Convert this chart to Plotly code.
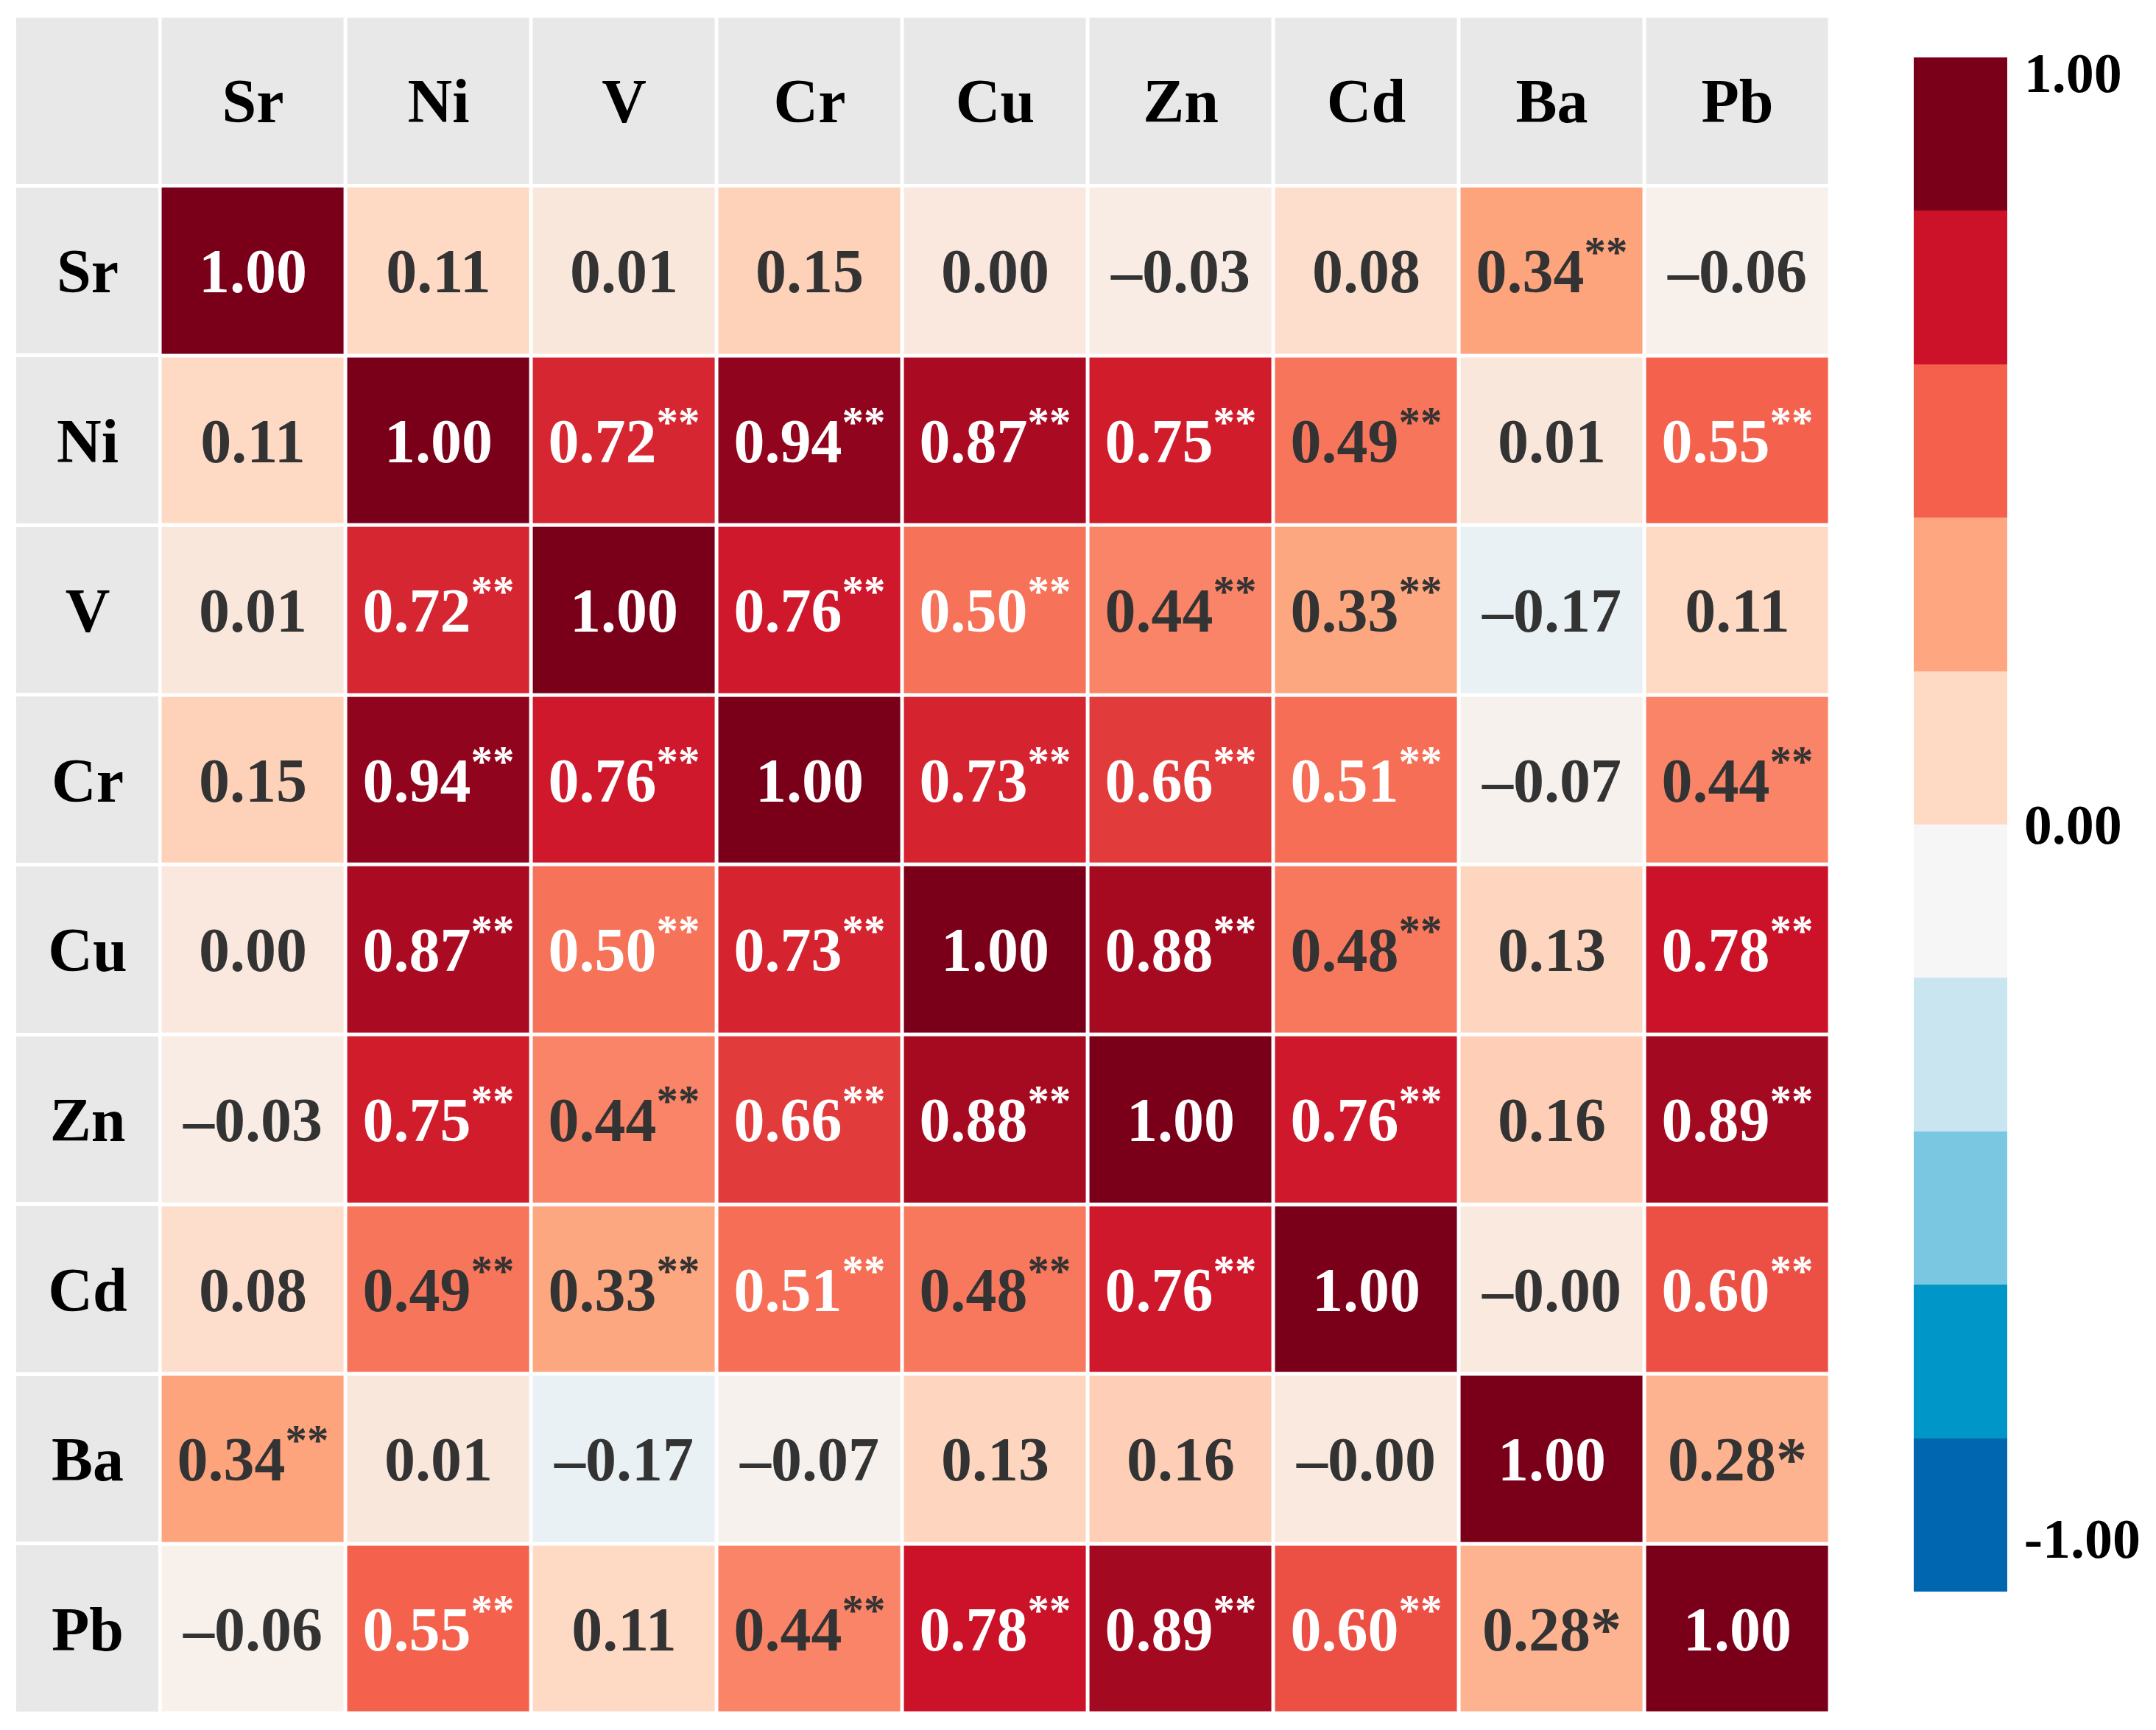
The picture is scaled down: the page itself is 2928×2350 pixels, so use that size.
import plotly.graph_objects as go

# ── 1. Data ───────────────────────────────────────
elements = ['Sr', 'Ni', 'V', 'Cr', 'Cu', 'Zn', 'Cd', 'Ba', 'Pb']

corr = [
    [1.00, 0.11, 0.01, 0.15, 0.00, -0.03, 0.08, 0.34, -0.06],
    [0.11, 1.00, 0.72, 0.94, 0.87, 0.75, 0.49, 0.01, 0.55],
    [0.01, 0.72, 1.00, 0.76, 0.50, 0.44, 0.33, -0.17, 0.11],
    [0.15, 0.94, 0.76, 1.00, 0.73, 0.66, 0.51, -0.07, 0.44],
    [0.00, 0.87, 0.50, 0.73, 1.00, 0.88, 0.48, 0.13, 0.78],
    [-0.03, 0.75, 0.44, 0.66, 0.88, 1.00, 0.76, 0.16, 0.89],
    [0.08, 0.49, 0.33, 0.51, 0.48, 0.76, 1.00, -0.004, 0.60],
    [0.34, 0.01, -0.17, -0.07, 0.13, 0.16, -0.004, 1.00, 0.28],
    [-0.06, 0.55, 0.11, 0.44, 0.78, 0.89, 0.60, 0.28, 1.00],
]

stars = [
    ['', '', '', '', '', '', '', '**', ''],
    ['', '', '**', '**', '**', '**', '**', '', '**'],
    ['', '**', '', '**', '**', '**', '**', '', ''],
    ['', '**', '**', '', '**', '**', '**', '', '**'],
    ['', '**', '**', '**', '', '**', '**', '', '**'],
    ['', '**', '**', '**', '**', '', '**', '', '**'],
    ['', '**', '**', '**', '**', '**', '', '', '**'],
    ['**', '', '', '', '', '', '', '', '*'],
    ['', '**', '', '**', '**', '**', '**', '*', ''],
]

cbar_ticks = [0.98, 0.0, -0.93]
cbar_text = ['1.00', '0.00', '-1.00']

# ── 2. Colours ────────────────────────────────────
palette = ['#0066b0', '#0096c8', '#79c7e0', '#c9e5f0', '#f6f6f6',
           '#fedac5', '#fda67f', '#f4604c', '#cc1228', '#7a0019']
n = len(palette)
smooth_scale = [[i / (n - 1), c] for i, c in enumerate(palette)]
step_scale = []
for i, c in enumerate(palette):
    step_scale += [[i / n, c], [(i + 1) / n, c]]

FONT = 'Liberation Serif'
GRAY = '#e8e8e8'
GAP = 5

# ── 3. Cell labels ────────────────────────────────
labels = []
for row, srow in zip(corr, stars):
    out = []
    for v, s in zip(row, srow):
        txt = f"{v:.2f}".replace('-', '–')
        if s == '**':
            txt += '<sup>**</sup>'
        elif s == '*':
            txt += '*'
        col = 'white' if v >= 0.495 else '#333333'
        out.append(f"<span style='color:{col}'>{txt}</span>")
    labels.append(out)

# grid positions from list order (header row sits at -1)
idx = list(range(len(elements)))
hdr = -1

fig = go.Figure()

# row label column (with empty corner)
fig.add_trace(go.Heatmap(
    x=[0], y=[hdr] + idx,
    z=[[0] for _ in range(len(idx) + 1)],
    text=[[' ']] + [[e] for e in elements],
    texttemplate='%{text}',
    textfont=dict(family=FONT, size=84, color='black', weight='bold'),
    colorscale=[[0, GRAY], [1, GRAY]], showscale=False,
    xgap=GAP, ygap=GAP, hoverinfo='skip',
    xaxis='x', yaxis='y'
))

# header row
fig.add_trace(go.Heatmap(
    x=idx, y=[hdr],
    z=[[0] * len(idx)],
    text=[elements],
    texttemplate='%{text}',
    textfont=dict(family=FONT, size=84, color='black', weight='bold'),
    colorscale=[[0, GRAY], [1, GRAY]], showscale=False,
    xgap=GAP, ygap=GAP, hoverinfo='skip',
    xaxis='x2', yaxis='y'
))

# correlation matrix
fig.add_trace(go.Heatmap(
    x=idx, y=idx, z=corr,
    text=labels, texttemplate='%{text}',
    textfont=dict(family=FONT, size=84, weight='bold'),
    colorscale=smooth_scale, zmin=-1, zmax=1, showscale=False,
    xgap=GAP, ygap=GAP,
    xaxis='x2', yaxis='y'
))

# discrete colour bar
fig.add_trace(go.Scatter(
    x=[None], y=[None], mode='markers', hoverinfo='skip',
    marker=dict(
        color=[0], cmin=-1, cmax=1, colorscale=step_scale, showscale=True,
        colorbar=dict(
            x=1.0458, xanchor='left', y=0.5239, yanchor='middle',
            thickness=127, thicknessmode='pixels',
            len=2084, lenmode='pixels', ypad=0, xpad=0,
            outlinewidth=0,
            tickvals=cbar_ticks, ticktext=cbar_text,
            ticks='outside', ticklen=8, tickcolor='white',
            tickfont=dict(family=FONT, size=76, color='black', weight='bold'),
        ),
    ),
    showlegend=False, xaxis='x2', yaxis='y'
))

fig.update_layout(
    width=2928, height=2350,
    margin=dict(l=12, r=450, t=14, b=30),
    paper_bgcolor='white', plot_bgcolor='white',
    xaxis=dict(domain=[0, 0.0801], range=[-0.5, 0.5], showticklabels=False,
               showgrid=False, zeroline=False),
    xaxis2=dict(domain=[0.0801, 1], range=[-0.5, len(idx) - 0.5],
                showticklabels=False, showgrid=False, zeroline=False),
    yaxis=dict(range=[len(idx) - 0.5, hdr - 0.5], showticklabels=False,
               showgrid=False, zeroline=False),
    showlegend=False,
)

fig.write_html("out.html")
